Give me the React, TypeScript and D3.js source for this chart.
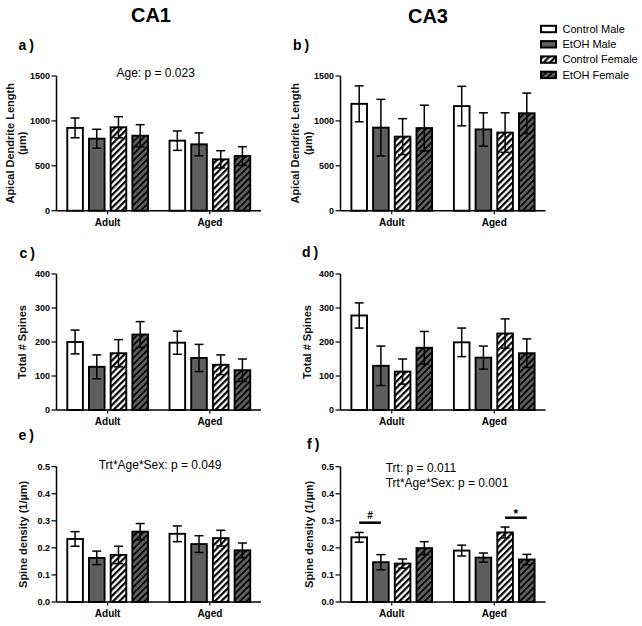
import React from "react";
import * as d3 from "d3";

const groups = ["Adult", "Aged"];
const seriesNames = ["Control Male", "EtOH Male", "Control Female", "EtOH Female"];

// a) CA1 apical dendrite length
const aAdultMean = [922, 802, 929, 835];
const aAdultSem = [110, 105, 118, 123];
const aAgedMean = [780, 739, 572, 609];
const aAgedSem = [108, 127, 96, 104];
// b) CA3 apical dendrite length
const bAdultMean = [1190, 925, 825, 920];
const bAdultSem = [200, 315, 200, 255];
const bAgedMean = [1165, 905, 870, 1085];
const bAgedSem = [220, 185, 220, 225];
// c) CA1 total spines
const cAdultMean = [200, 127, 167, 222];
const cAdultSem = [35, 35, 40, 38];
const cAgedMean = [198, 153, 133, 117];
const cAgedSem = [34, 40, 29, 33];
// d) CA3 total spines
const dAdultMean = [278, 130, 113, 183];
const dAdultSem = [37, 58, 37, 48];
const dAgedMean = [199, 154, 225, 167];
const dAgedSem = [42, 34, 43, 42];
// e) CA1 spine density
const eAdultMean = [0.233, 0.163, 0.174, 0.26];
const eAdultSem = [0.027, 0.025, 0.032, 0.03];
const eAgedMean = [0.252, 0.214, 0.236, 0.191];
const eAgedSem = [0.029, 0.031, 0.029, 0.027];
// f) CA3 spine density
const fAdultMean = [0.239, 0.147, 0.142, 0.199];
const fAdultSem = [0.018, 0.028, 0.017, 0.024];
const fAgedMean = [0.19, 0.164, 0.257, 0.157];
const fAgedSem = [0.02, 0.017, 0.02, 0.019];

const lengthTicks = [0, 500, 1000, 1500];
const spineTicks = [0, 100, 200, 300, 400];
const densityTicks = [0, 0.1, 0.2, 0.3, 0.4, 0.5];

const FONT = "'Liberation Sans', Arial, Helvetica, sans-serif";
const GRAY = "#5f5f5f";
const fills = ["#ffffff", GRAY, "url(#hatchW)", "url(#hatchG)"];

type PanelDef = {
  label: string;
  col: number;
  row: number;
  means: number[][];
  sems: number[][];
  ticks: number[];
  fmt: (v: number) => string;
  yTitle: string[];
  yTitleOff: number[];
};

const fmtInt = (v: number) => d3.format("d")(v);
const fmt1 = (v: number) => d3.format(".1f")(v);

const panels: PanelDef[] = [
  { label: "a", col: 0, row: 0, means: [aAdultMean, aAgedMean], sems: [aAdultSem, aAgedSem], ticks: lengthTicks, fmt: fmtInt, yTitle: ["Apical Dendrite Length", "(µm)"], yTitleOff: [46.5, 34.5] },
  { label: "b", col: 1, row: 0, means: [bAdultMean, bAgedMean], sems: [bAdultSem, bAgedSem], ticks: lengthTicks, fmt: fmtInt, yTitle: ["Apical Dendrite Length", "(µm)"], yTitleOff: [45, 32.5] },
  { label: "c", col: 0, row: 1, means: [cAdultMean, cAgedMean], sems: [cAdultSem, cAgedSem], ticks: spineTicks, fmt: fmtInt, yTitle: ["Total # Spines"], yTitleOff: [34.5] },
  { label: "d", col: 1, row: 1, means: [dAdultMean, dAgedMean], sems: [dAdultSem, dAgedSem], ticks: spineTicks, fmt: fmtInt, yTitle: ["Total # Spines"], yTitleOff: [33.5] },
  { label: "e", col: 0, row: 2, means: [eAdultMean, eAgedMean], sems: [eAdultSem, eAgedSem], ticks: densityTicks, fmt: fmt1, yTitle: ["Spine density (1/µm)"], yTitleOff: [33] },
  { label: "f", col: 1, row: 2, means: [fAdultMean, fAgedMean], sems: [fAdultSem, fAgedSem], ticks: densityTicks, fmt: fmt1, yTitle: ["Spine density (1/µm)"], yTitleOff: [31.5] },
];

const cols = [
  { x0: 56.5, x1: 261 },
  { x0: 340.5, x1: 545.5 },
];
const rows = [
  { top: 76, zero: 210.7 },
  { top: 274, zero: 410 },
  { top: 466.7, zero: 602 },
];
const labelPos: Record<string, [number, number]> = {
  a: [18.5, 50], b: [293, 50], c: [19.5, 257.5], d: [302, 256.5], e: [18.5, 439.5], f: [307, 448.5],
};

function makeScales(p: PanelDef) {
  const c = cols[p.col];
  const r = rows[p.row];
  const y = d3.scaleLinear().domain([0, p.ticks[p.ticks.length - 1]]).range([r.zero, r.top]);
  const gx = d3.scaleBand<string>().domain(groups).range([c.x0, c.x1]).padding(0);
  const sx = d3.scaleBand<string>().domain(seriesNames).range([-43.4, 43.4]).paddingInner(0.28).paddingOuter(0.14);
  return { c, r, y, gx, sx };
}

function Panel({ p }: { p: PanelDef }) {
  const { c, r, y, gx, sx } = makeScales(p);
  const bw = sx.bandwidth();
  const cap = 4.5;
  const midY = (r.top + r.zero) / 2;
  const [lx, ly] = labelPos[p.label];
  return (
    <g>
      <text x={lx} y={ly} fontSize={14} fontWeight="bold" fontFamily={FONT}>
        {p.label}
        <tspan dx={3}>)</tspan>
      </text>
      {p.yTitle.map((t, i) => (
        <text
          key={i}
          transform={`translate(${c.x0 - p.yTitleOff[i]},${midY}) rotate(-90)`}
          textAnchor="middle"
          dy="0.35em"
          fontSize={11}
          fontWeight="bold"
          fontFamily={FONT}
          fill="#111"
        >
          {t}
        </text>
      ))}
      {groups.map((g, gi) =>
        seriesNames.map((s, si) => {
          const cx = (gx(g) as number) + gx.bandwidth() / 2 + (sx(s) as number);
          const v = p.means[gi][si];
          const e = p.sems[gi][si];
          return (
            <g key={g + s}>
              <rect x={cx} y={y(v)} width={bw} height={r.zero - y(v)} fill={fills[si]} stroke="#000" strokeWidth={1.9} />
              <line x1={cx + bw / 2} x2={cx + bw / 2} y1={y(v - e)} y2={y(v + e)} stroke="#000" strokeWidth={1.5} />
              <line x1={cx + bw / 2 - cap} x2={cx + bw / 2 + cap} y1={y(v + e)} y2={y(v + e)} stroke="#000" strokeWidth={1.5} />
              <line x1={cx + bw / 2 - cap} x2={cx + bw / 2 + cap} y1={y(v - e)} y2={y(v - e)} stroke="#000" strokeWidth={1.5} />
            </g>
          );
        })
      )}
      {/* y axis */}
      <line x1={c.x0} x2={c.x0} y1={r.top} y2={r.zero} stroke="#000" strokeWidth={1.5} />
      {p.ticks.map((t) => (
        <g key={t}>
          <line x1={c.x0 - 5} x2={c.x0} y1={y(t)} y2={y(t)} stroke="#000" strokeWidth={1.2} />
          <text x={c.x0 - 6.5} y={y(t)} dy="0.35em" textAnchor="end" fontSize={9} fontWeight="bold" fontFamily={FONT}>
            {p.fmt(t)}
          </text>
        </g>
      ))}
      {/* x axis */}
      <line x1={c.x0} x2={c.x1} y1={r.zero} y2={r.zero} stroke="#000" strokeWidth={1.5} />
      {groups.map((g) => {
        const gxm = (gx(g) as number) + gx.bandwidth() / 2;
        return (
          <g key={g}>
            <line x1={gxm} x2={gxm} y1={r.zero} y2={r.zero + 3.5} stroke="#000" strokeWidth={1.2} />
            <text x={gxm} y={r.zero + 11.5} dy="0.35em" textAnchor="middle" fontSize={10} fontWeight="bold" fontFamily={FONT}>
              {g}
            </text>
          </g>
        );
      })}
    </g>
  );
}

export default function App() {
  const pf = panels[5];
  const sf = makeScales(pf);
  const barC = (gi: number, si: number) =>
    (sf.gx(groups[gi]) as number) + sf.gx.bandwidth() / 2 + (sf.sx(seriesNames[si]) as number) + sf.sx.bandwidth() / 2;
  return (
    <svg width={642} height={626} style={{ position: "absolute", left: 0, top: 0, background: "#fff" }} fontFamily={FONT}>
      <defs>
        <pattern id="hatchW" patternUnits="userSpaceOnUse" width={4.5} height={4.5} patternTransform="rotate(45)">
          <rect width={4.5} height={4.5} fill="#fff" />
          <rect width={2.2} height={4.5} fill="#000" />
        </pattern>
        <pattern id="hatchG" patternUnits="userSpaceOnUse" width={4.5} height={4.5} patternTransform="rotate(45)">
          <rect width={4.5} height={4.5} fill={GRAY} />
          <rect width={1.7} height={4.5} fill="#000" />
        </pattern>
      </defs>
      <rect width={642} height={626} fill="#fff" />
      <text x={151} y={15} dy="0.35em" textAnchor="middle" fontSize={20} fontWeight="bold">CA1</text>
      <text x={428} y={15.5} dy="0.35em" textAnchor="middle" fontSize={20} fontWeight="bold">CA3</text>

      {/* legend */}
      {seriesNames.map((s, i) => {
        const cy = 29 + i * 15.3;
        return (
          <g key={s}>
            <rect x={541} y={cy - 3.2} width={15} height={6.4} fill={fills[i]} stroke="#000" strokeWidth={2} />
            <text x={562.5} y={cy} dy="0.35em" fontSize={11}>{s}</text>
          </g>
        );
      })}

      {panels.map((p) => (
        <Panel key={p.label} p={p} />
      ))}

      {/* annotations */}
      <text x={155.7} y={77} textAnchor="middle" fontSize={12}>Age: p = 0.023</text>
      <text x={160} y={469} textAnchor="middle" fontSize={12}>Trt*Age*Sex: p = 0.049</text>
      <text x={385.7} y={472} fontSize={12}>Trt: p = 0.011</text>
      <text x={385.7} y={487} fontSize={12}>Trt*Age*Sex: p = 0.001</text>

      {/* significance markers in f */}
      <line x1={barC(0, 0)} x2={barC(0, 1)} y1={522.7} y2={522.7} stroke="#000" strokeWidth={2.5} />
      <text x={(barC(0, 0) + barC(0, 1)) / 2} y={518.5} textAnchor="middle" fontSize={10} fontWeight="bold">#</text>
      <line x1={barC(1, 2)} x2={barC(1, 3)} y1={517.7} y2={517.7} stroke="#000" strokeWidth={2.5} />
      <text x={(barC(1, 2) + barC(1, 3)) / 2} y={517.5} textAnchor="middle" fontSize={12} fontWeight="bold">*</text>
    </svg>
  );
}
